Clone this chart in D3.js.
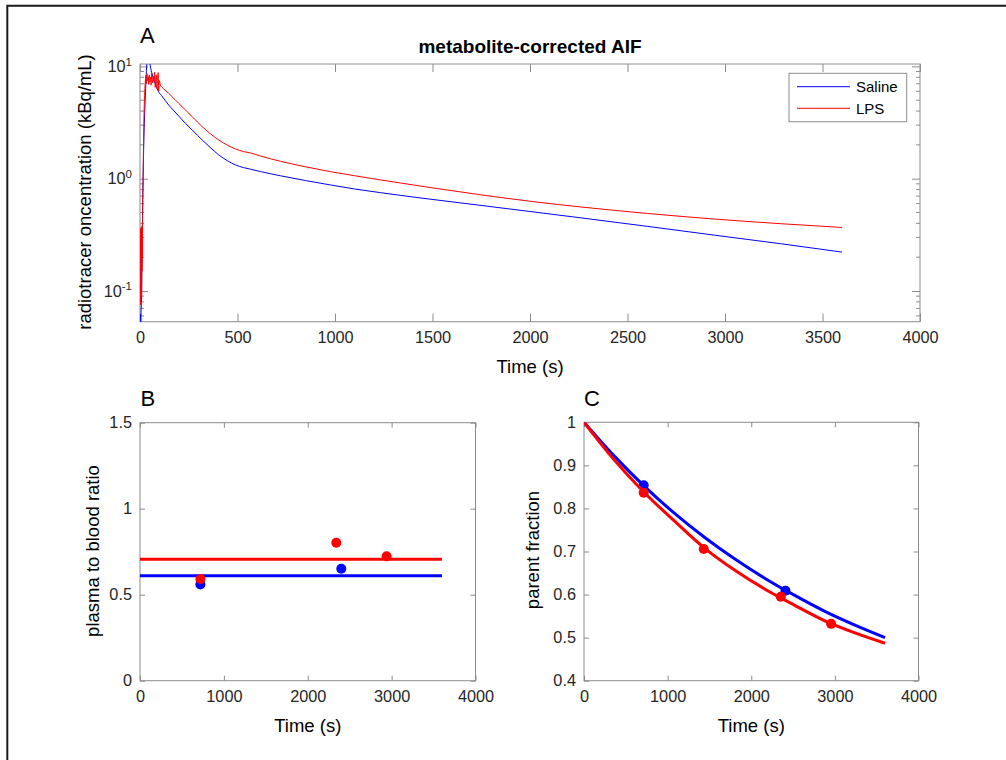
<!DOCTYPE html>
<html>
<head>
<meta charset="utf-8">
<script src="https://cdn.jsdelivr.net/npm/d3@7"></script>
<style>
  html, body { margin: 0; padding: 0; background: #fff; }
  svg { display: block; font-family: "Liberation Sans", Arial, Helvetica, sans-serif; }
</style>
</head>
<body>
<svg id="fig" width="1006" height="760"></svg>
<script>
// ---------- Panel A: metabolite-corrected arterial input function ----------
const aifSalineTime = [0, 2, 4, 6, 8, 10, 12, 14, 16, 18, 20, 23, 26, 30, 34, 38, 42, 46, 50, 55, 60, 70, 80, 87, 95,
  110, 130, 147, 170, 200, 233, 270, 319, 360, 404, 449, 490, 531, 567, 618, 721, 849, 978, 1100, 1235, 1492,
  1749, 2005, 2261, 2604, 2947, 3290, 3600];
const aifSalineConc = [0.048, 0.062, 0.05, 0.07, 0.085, 0.16, 0.33, 0.65, 1.05, 1.6, 2.3, 3.4, 4.8, 7.0, 10.0, 12.5,
  13.0, 12.0, 10.8, 9.6, 8.8, 7.7, 6.9, 6.4, 5.95, 5.5, 4.95, 4.53, 4.09, 3.59, 3.11, 2.69, 2.21, 1.90, 1.626,
  1.443, 1.324, 1.255, 1.215, 1.157, 1.061, 0.962, 0.879, 0.81, 0.75, 0.656, 0.578, 0.509, 0.448, 0.376, 0.314,
  0.263, 0.222];

const aifLpsTime = [0, 1, 2, 3, 4, 5, 6, 7, 8, 9, 10, 11, 12, 14, 16, 18, 20, 22, 24, 26, 28, 30, 33, 36, 39, 42, 45,
  48, 51, 54, 57, 60, 63, 66, 69, 72, 75, 78, 81, 84, 87, 90, 93, 96, 99, 102, 104, 120, 147, 180, 200, 233, 270,
  319, 360, 404, 449, 490, 531, 567, 618, 721, 849, 978, 1100, 1235, 1492, 1749, 2005, 2261, 2604, 2947, 3290, 3600];
const aifLpsConc = [0.08, 0.3, 0.1, 0.36, 0.075, 0.25, 0.12, 0.37, 0.09, 0.3, 0.15, 0.38, 0.2, 0.6, 1.0, 1.9, 3.2,
  4.6, 5.8, 6.8, 7.6, 8.3, 7.0, 8.6, 7.4, 8.1, 6.9, 8.4, 7.3, 8.0, 6.8, 8.7, 7.6, 7.1, 8.2, 7.4, 8.9, 6.5, 7.9, 8.4,
  6.3, 7.7, 8.8, 6.0, 7.5, 7.1, 6.83, 6.35, 5.76, 5.05, 4.66, 4.09, 3.53, 2.905, 2.52, 2.21, 1.984, 1.838, 1.743,
  1.694, 1.592, 1.428, 1.276, 1.154, 1.063, 0.974, 0.832, 0.718, 0.628, 0.560, 0.490, 0.437, 0.397, 0.368];

const timeTicksA = [0, 500, 1000, 1500, 2000, 2500, 3000, 3500, 4000];
const concDecades = [0.1, 1, 10];

// ---------- Panel B: plasma to blood ratio ----------
const pbSampleTimeSaline = [720, 2400];
const pbSampleSaline = [0.560, 0.651];
const pbSampleTimeLps = [720, 2340, 2940];
const pbSampleLps = [0.591, 0.802, 0.723];
const pbFitTime = [0, 3600];
const pbFitSaline = [0.61, 0.61];
const pbFitLps = [0.706, 0.706];
const timeTicksBC = [0, 1000, 2000, 3000, 4000];
const ratioTicks = [0, 0.5, 1, 1.5];

// ---------- Panel C: parent fraction ----------
const pfSampleTimeSaline = [714, 2409];
const pfSampleSaline = [0.854, 0.609];
const pfSampleTimeLps = [714, 1432, 2353, 2955];
const pfSampleLps = [0.8365, 0.706, 0.595, 0.532];
const pfFitTime = [0, 360, 720, 1080, 1440, 1800, 2160, 2520, 2880, 3240, 3600];
const pfFitSaline = [1.0, 0.922, 0.852, 0.789, 0.733, 0.683, 0.638, 0.598, 0.561, 0.529, 0.500];
const pfFitLps = [1.0, 0.913, 0.837, 0.771, 0.708, 0.657, 0.613, 0.575, 0.539, 0.511, 0.487];
const fractionTicks = [0.4, 0.5, 0.6, 0.7, 0.8, 0.9, 1];

const seriesNames = ["Saline", "LPS"];

// ---------- styling ----------
const BLUE = "#0000ff", RED = "#ff0000";
const AXIS_GRAY = "#8c8c8c", TEXT_DARK = "#262626";
const TICK_FONT = 16.3, LABEL_FONT = 18.5;

const svg = d3.select("#fig");

// outer frame (top and left edges)
svg.append("path")
  .attr("d", "M7.3,760 V5.7 H1006")
  .attr("fill", "none").attr("stroke", "#1a1a1a").attr("stroke-width", 2);

function zip(ts, vs) { return ts.map((t, i) => [t, vs[i]]); }

let clipCount = 0;
function makeAxes(x, y, opts) {
  const [x0, x1] = x.range();
  const [yb, yt] = y.range();
  const g = svg.append("g");
  const id = "clip" + (clipCount++);
  svg.append("clipPath").attr("id", id)
    .append("rect").attr("x", x0).attr("y", yt).attr("width", x1 - x0).attr("height", yb - yt);

  const tk = opts.tick;
  const gb = g.append("g").attr("transform", `translate(0,${yb})`)
    .call(d3.axisBottom(x).tickValues(opts.xTicks).tickSizeInner(-tk).tickSizeOuter(0).tickPadding(10)
      .tickFormat(d3.format("d")));
  const gt = g.append("g").attr("transform", `translate(0,${yt})`)
    .call(d3.axisTop(x).tickValues(opts.xTicks).tickSizeInner(-tk).tickSizeOuter(0).tickFormat(() => ""));
  const gl = g.append("g").attr("transform", `translate(${x0},0)`)
    .call(d3.axisLeft(y).tickValues(opts.yTicks).tickSizeInner(-tk).tickSizeOuter(0).tickPadding(8)
      .tickFormat(opts.yFormat || (d => d)));
  const gr = g.append("g").attr("transform", `translate(${x1},0)`)
    .call(d3.axisRight(y).tickValues(opts.yTicks).tickSizeInner(-tk).tickSizeOuter(0).tickFormat(() => ""));

  [gb, gt, gl, gr].forEach(a => {
    a.select(".domain").remove();
    a.selectAll(".tick line").attr("stroke", AXIS_GRAY).attr("stroke-width", 1);
    a.selectAll(".tick text").attr("fill", TEXT_DARK).attr("font-size", TICK_FONT)
      .attr("font-family", "Liberation Sans, Arial, sans-serif");
  });

  // minor log ticks
  if (opts.minor) {
    opts.minor.forEach(v => {
      const yy = y(v);
      g.append("line").attr("x1", x0).attr("x2", x0 + opts.minorLen).attr("y1", yy).attr("y2", yy)
        .attr("stroke", AXIS_GRAY);
      g.append("line").attr("x1", x1).attr("x2", x1 - opts.minorLen).attr("y1", yy).attr("y2", yy)
        .attr("stroke", AXIS_GRAY);
    });
  }

  g.append("rect").attr("x", x0).attr("y", yt).attr("width", x1 - x0).attr("height", yb - yt)
    .attr("fill", "none").attr("stroke", AXIS_GRAY).attr("stroke-width", 1);

  return { g, gl, clip: `url(#${id})` };
}

function drawLine(x, y, data, color, width, clip, curve) {
  svg.append("path").datum(data)
    .attr("clip-path", clip)
    .attr("fill", "none").attr("stroke", color).attr("stroke-width", width)
    .attr("stroke-linejoin", "round").attr("stroke-linecap", "butt")
    .attr("d", d3.line().x(d => x(d[0])).y(d => y(d[1])).curve(curve || d3.curveLinear));
}

function drawDots(x, y, data, color) {
  svg.append("g").selectAll("circle").data(data).join("circle")
    .attr("cx", d => x(d[0])).attr("cy", d => y(d[1])).attr("r", 5).attr("fill", color);
}

function text(str, x, y, size, opts = {}) {
  const t = svg.append("text").attr("x", x).attr("y", y).attr("font-size", size)
    .attr("fill", opts.fill || "#000").attr("text-anchor", opts.anchor || "middle")
    .attr("font-weight", opts.weight || "normal").text(str);
  if (opts.rotate) t.attr("transform", `rotate(-90,${x},${y})`);
  return t;
}

// ================= Panel A =================
const xA = d3.scaleLinear().domain([0, 4000]).range([140, 920]);
const yA = d3.scaleLog().domain([0.0533, 10.5]).range([321.7, 64]);

const minorA = [];
[0.01, 0.1, 1].forEach(dec => { for (let m = 2; m <= 9; m++) { const v = m * dec; if (v >= 0.0533 && v <= 10.5) minorA.push(v); } });

const axA = makeAxes(xA, yA, { xTicks: timeTicksA, yTicks: concDecades, tick: 8, minor: minorA, minorLen: 4 });
// powers of ten labels
axA.gl.selectAll(".tick text").each(function (d) {
  const el = d3.select(this);
  el.text(null);
  el.append("tspan").text("10");
  el.append("tspan").attr("dy", "-0.55em").attr("font-size", 11.5).text(Math.round(Math.log10(d)));
});

drawLine(xA, yA, zip(aifSalineTime, aifSalineConc), BLUE, 1, axA.clip, d3.curveMonotoneX);
drawLine(xA, yA, zip(aifLpsTime, aifLpsConc), RED, 1, axA.clip, d3.curveMonotoneX);

text("metabolite-corrected AIF", 530, 53, 19, { weight: "bold" });
text("Time (s)", 530, 373, LABEL_FONT);
text("radiotracer oncentration (kBq/mL)", 91, 192, LABEL_FONT, { rotate: true });
text("A", 140, 43, 22, { anchor: "start" });

// legend
const lg = svg.append("g");
lg.append("rect").attr("x", 789).attr("y", 73.3).attr("width", 117.7).attr("height", 48.4)
  .attr("fill", "#fff").attr("stroke", AXIS_GRAY).attr("stroke-width", 1);
[BLUE, RED].forEach((c, i) => {
  const yy = 86.7 + i * 21.6;
  lg.append("line").attr("x1", 797).attr("x2", 850).attr("y1", yy).attr("y2", yy)
    .attr("stroke", c).attr("stroke-width", 1);
  lg.append("text").attr("x", 856).attr("y", yy).attr("dy", "0.36em").attr("font-size", 15)
    .attr("fill", "#000").text(seriesNames[i]);
});

// ================= Panel B =================
const xB = d3.scaleLinear().domain([0, 4000]).range([140, 475.5]);
const yB = d3.scaleLinear().domain([0, 1.5]).range([680.7, 422.7]);
const axB = makeAxes(xB, yB, { xTicks: timeTicksBC, yTicks: ratioTicks, tick: 5 });

drawLine(xB, yB, zip(pbFitTime, pbFitSaline), BLUE, 3, axB.clip);
drawDots(xB, yB, zip(pbSampleTimeSaline, pbSampleSaline), BLUE);
drawLine(xB, yB, zip(pbFitTime, pbFitLps), RED, 3, axB.clip);
drawDots(xB, yB, zip(pbSampleTimeLps, pbSampleLps), RED);

text("Time (s)", (140 + 475.5) / 2, 732, LABEL_FONT);
text("plasma to blood ratio", 99, 551, LABEL_FONT, { rotate: true });
text("B", 140.5, 406, 22, { anchor: "start" });

// ================= Panel C =================
const xC = d3.scaleLinear().domain([0, 4000]).range([584, 918.5]);
const yC = d3.scaleLinear().domain([0.4, 1]).range([680.7, 422.3]);
const axC = makeAxes(xC, yC, { xTicks: timeTicksBC, yTicks: fractionTicks, tick: 5 });

drawLine(xC, yC, zip(pfFitTime, pfFitSaline), BLUE, 3, axC.clip, d3.curveMonotoneX);
drawDots(xC, yC, zip(pfSampleTimeSaline, pfSampleSaline), BLUE);
drawLine(xC, yC, zip(pfFitTime, pfFitLps), RED, 3, axC.clip, d3.curveMonotoneX);
drawDots(xC, yC, zip(pfSampleTimeLps, pfSampleLps), RED);

text("Time (s)", (584 + 918.5) / 2, 732, LABEL_FONT);
text("parent fraction", 539, 550, LABEL_FONT, { rotate: true });
text("C", 584, 406, 22, { anchor: "start" });
</script>
</body>
</html>
